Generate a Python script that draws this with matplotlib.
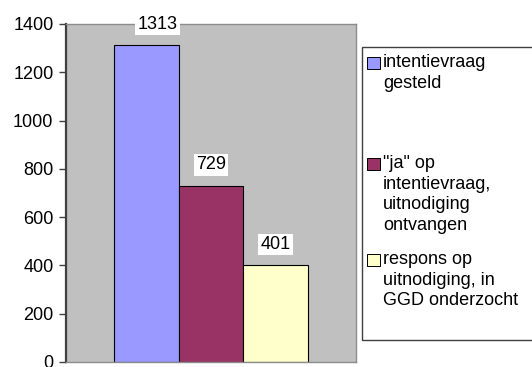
import matplotlib.pyplot as plt
from matplotlib.patches import Rectangle

# counts per stage of the invitation process
stages = ['intentievraag\ngesteld',
          '"ja" op\nintentievraag,\nuitnodiging\nontvangen',
          'respons op\nuitnodiging, in\nGGD onderzocht']
counts = [1313, 729, 401]
colors = ['#9999FF', '#993366', '#FFFFCC']
y_ticks = [0, 200, 400, 600, 800, 1000, 1200, 1400]

plt.rcParams['font.family'] = ['Liberation Sans', 'DejaVu Sans']
FS = 13

W, H = 532, 367
fig = plt.figure(figsize=(W / 100, H / 100), dpi=100)
ax = fig.add_axes([66 / W, (H - 362) / H, 290 / W, 338 / H])
ax.set_facecolor('#C0C0C0')

xs = list(range(len(counts)))
bars = ax.bar(xs, counts, width=1.0, color=colors, edgecolor='black', linewidth=0.8)

ax.set_xlim(-1.242, 3.242)
ax.set_ylim(0, 1400)
ax.set_yticks(y_ticks)
ax.set_yticklabels([str(t) for t in y_ticks], fontsize=FS)
ax.set_xticks([])
ax.tick_params(axis='y', direction='out', length=5, width=1, color='#404040', pad=4)

for side in ['top', 'right']:
    ax.spines[side].set_color('#8C8C8C')
    ax.spines[side].set_linewidth(1)
ax.spines['left'].set_color('#404040')
ax.spines['left'].set_linewidth(1.6)
ax.spines['bottom'].set_color('#8C8C8C')
ax.spines['bottom'].set_linewidth(1)

# value labels above each bar; the tallest one sits a little to the right
for i, (bar, v) in enumerate(zip(bars, counts)):
    dx = 8 if i == 0 else 0
    ax.annotate(str(v), (bar.get_x() + bar.get_width() / 2, v),
                xytext=(dx, 9), textcoords='offset points',
                ha='center', va='bottom', fontsize=FS,
                bbox=dict(facecolor='white', edgecolor='none', pad=1.5),
                annotation_clip=False)

# legend box, running off the right edge
fx = lambda px: px / W
fy = lambda py: (H - py) / H
fig.patches.append(Rectangle((fx(362), fy(340)), fx(545) - fx(362), fy(47) - fy(340),
                             transform=fig.transFigure, facecolor='white',
                             edgecolor='#404040', linewidth=1, zorder=0))

entry_y = [63, 164, 260]
for label, c, y in zip(stages, colors, entry_y):
    fig.patches.append(Rectangle((fx(367), fy(y + 6)), 13 / W, 12 / H,
                                 transform=fig.transFigure, facecolor=c,
                                 edgecolor='black', linewidth=0.7))
    fig.text(fx(383), fy(y - 9), label, ha='left', va='top', fontsize=FS,
             linespacing=1.28)

fig.savefig('out.png', dpi=100)
